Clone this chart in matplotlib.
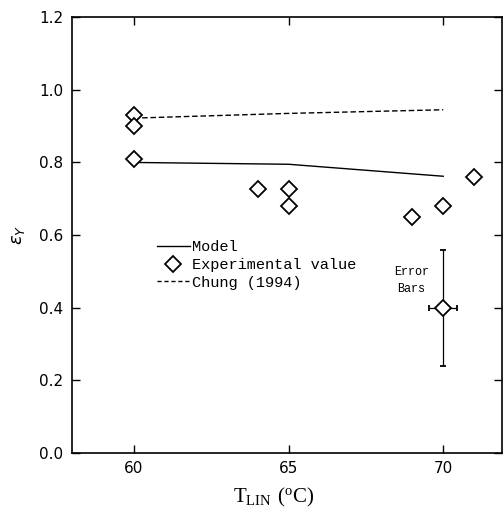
import numpy as np
import matplotlib
matplotlib.use("Agg")
import matplotlib.pyplot as plt
from matplotlib.lines import Line2D
from matplotlib.ticker import FormatStrFormatter

# data
model_T = [60, 65, 70]
model_eps = [0.800, 0.795, 0.762]

chung_T = [60, 65, 70]
chung_eps = [0.922, 0.935, 0.945]

exp_T = [60, 60, 60, 64, 65, 65, 69, 70, 71]
exp_eps = [0.930, 0.900, 0.810, 0.727, 0.727, 0.679, 0.651, 0.680, 0.761]

# representative error bar
err_T = [70]
err_eps = [0.40]
err_y = [0.16]
err_x = [0.45]

plt.rcParams['font.family'] = ['DejaVu Sans']

fig = plt.figure(figsize=(5.03, 5.19), dpi=100)
ax = fig.add_axes([0.143, 0.127, 0.855, 0.840])

ax.plot(model_T, model_eps, color='black', lw=1.0)
ax.plot(chung_T, chung_eps, color='black', lw=1.0, dashes=(4, 2))
ax.plot(exp_T, exp_eps, linestyle='none', marker='D', markersize=8,
        markerfacecolor='white', markeredgecolor='black', markeredgewidth=1.3)
ax.errorbar(err_T, err_eps, yerr=err_y, xerr=err_x, fmt='D', markersize=8,
            markerfacecolor='white', markeredgecolor='black', markeredgewidth=1.3,
            ecolor='black', elinewidth=0.9, capsize=2.5, capthick=1.0)

ax.text(68.97, 0.475, 'Error\nBars', fontsize=8.5, family='Liberation Mono',
        ha='center', va='center', linespacing=1.6)

ax.set_xlim(58, 71.9)
ax.set_ylim(0, 1.2)
ax.set_xticks([60, 65, 70])
ax.set_yticks(np.arange(0, 1.21, 0.2))
ax.yaxis.set_major_formatter(FormatStrFormatter('%.1f'))
ax.tick_params(direction='in', length=6, width=1.0, top=True, right=True,
               labelsize=11, pad=6)
for s in ax.spines.values():
    s.set_linewidth(1.2)

ax.set_xlabel(r'$\mathregular{T_{LIN}\ (^{o}C)}$', fontsize=15, family='Liberation Serif',
              labelpad=3)
ax.xaxis.set_label_coords(0.47, -0.075)
ax.set_ylabel(r'$\epsilon_Y$', fontsize=13, labelpad=9)

handles = [Line2D([0], [0], color='black', lw=1.0),
           Line2D([0], [0], linestyle='none', marker='D', markersize=8,
                  markerfacecolor='white', markeredgecolor='black', markeredgewidth=1.3),
           Line2D([0], [0], color='black', lw=1.0, dashes=(3, 2))]
labels = ['Model', 'Experimental value', 'Chung (1994)']
ax.legend(handles, labels, loc='upper left', bbox_to_anchor=(0.165, 0.52),
          frameon=False, handlelength=2.2, handletextpad=0.1, labelspacing=0.25,
          prop={'family': 'Liberation Mono', 'size': 11})

fig.savefig('out.png', dpi=100)
